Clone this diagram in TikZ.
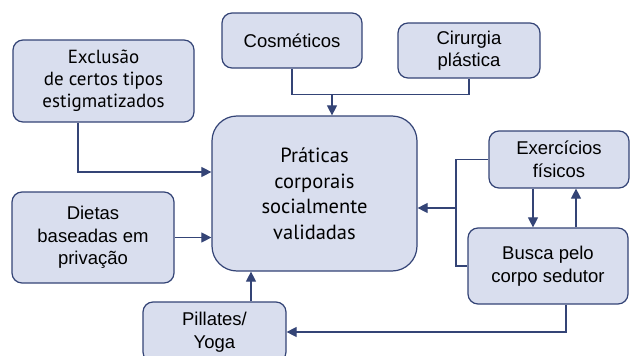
\documentclass[tikz,border=0pt]{standalone}
\usepackage{fontspec}
\setmainfont{Liberation Sans}
\newfontfamily\humanfont{PT Sans}
\usepackage{tikz}
\usetikzlibrary{arrows.meta,shapes,positioning}
\usepackage{xcolor}
\definecolor{bxnavy}{RGB}{52,68,118}
\definecolor{bxfill}{RGB}{217,222,238}
\tikzstyle{bloco} = [rectangle, rounded corners=10pt, align=center, draw=bxnavy, fill=bxfill, line width=1.2pt, inner sep=0pt, font=\fontsize{18.5}{22.5}\selectfont]
\tikzstyle{seta} = [line width=1.1pt, bxnavy, -{Triangle[length=10pt,width=10pt]}]
\tikzstyle{linha} = [line width=1.1pt, bxnavy]

\begin{document}
\begin{tikzpicture}[x=1pt, y=-1pt]
\useasboundingbox (0,0) rectangle (630,356);
% Boxes
\node[bloco, minimum width=205pt, minimum height=155pt, rounded corners=25pt, font=\humanfont\fontsize{20.5}{25.5}\selectfont] (praticas) at (314.5,193.5) {Práticas\\corporais\\socialmente\\validadas};
\node[bloco, minimum width=181pt, minimum height=82pt, font=\humanfont\fontsize{19}{22}\selectfont] (exclusao) at (103.5,81) {Exclusão\\de certos tipos\\estigmatizados};
\node[bloco, minimum width=140pt, minimum height=55pt] (cosmeticos) at (292,40.5) {Cosméticos};
\node[bloco, minimum width=142pt, minimum height=55pt] (cirurgia) at (469,50.5) {Cirurgia\\plástica};
\node[bloco, minimum width=140pt, minimum height=57pt] (exercicios) at (559,159.5) {Exercícios\\físicos};
\node[bloco, minimum width=160pt, minimum height=76pt] (busca) at (548,266) {Busca pelo\\corpo sedutor};
\node[bloco, minimum width=162pt, minimum height=91pt] (dietas) at (93,237.5) {Dietas\\baseadas em\\privação};
\node[bloco, minimum width=143pt, minimum height=60pt] (pillates) at (214.5,332) {Pillates/\\Yoga};

% Connectors
\coordinate (juncao) at (332,94);
\draw[linha] (cosmeticos.south) -- ++(0,26) -| (cirurgia.south);
\draw[seta] (juncao) -- (juncao |- praticas.north);
\draw[seta] ([xshift=-25.5pt]exclusao.south) |- ([yshift=21.5pt]praticas.west);
\draw[seta] (dietas.east) -- (dietas.east -| praticas.west);
\draw[seta] ([xshift=36.5pt]pillates.north) -- ([xshift=36.5pt]pillates.north |- praticas.south);
\draw[seta] ([xshift=18pt]busca.south) |- (pillates.east);
\coordinate (ramal) at (456,208);
\draw[linha] (exercicios.west) -| (ramal) |- (busca.west);
\draw[seta] (ramal) -- (ramal -| praticas.east);
\draw[seta] ([xshift=-26pt]exercicios.south) -- ([xshift=-26pt]exercicios.south |- busca.north);
\draw[seta] ([xshift=17pt]exercicios.south |- busca.north) -- ([xshift=17pt]exercicios.south);
\end{tikzpicture}
\end{document}
